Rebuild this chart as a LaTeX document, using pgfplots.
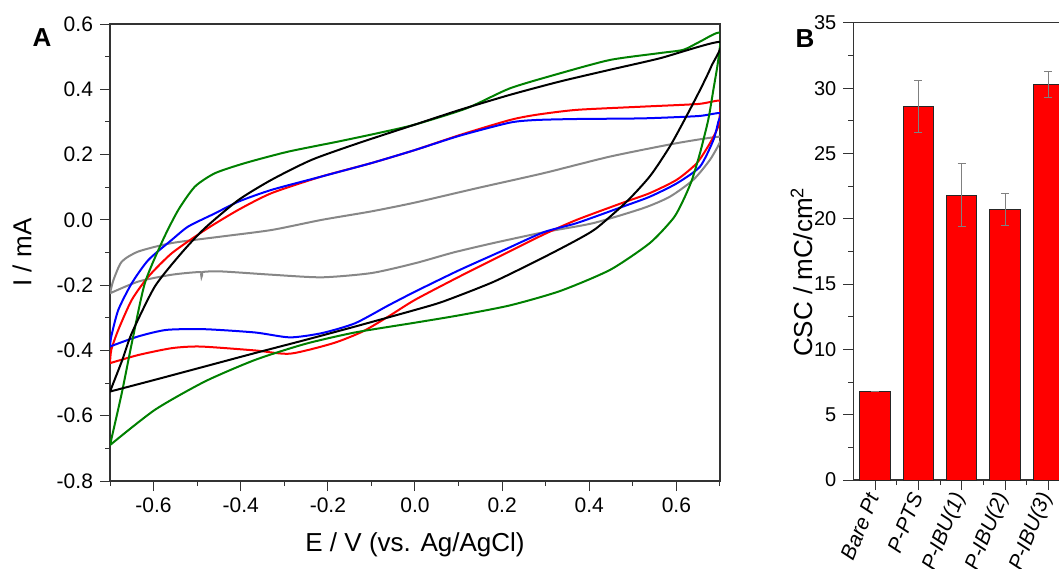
\documentclass[border=0pt]{standalone}
\usepackage{fontspec}
\setmainfont{Liberation Sans}
\usepackage{pgfplots}
\pgfplotsset{compat=1.18}

\definecolor{cvgreen}{RGB}{0,128,0}
\definecolor{cvgray}{RGB}{135,135,135}

\pgfplotsset{
  panel/.style={
    scale only axis,
    anchor=south west,
    axis line style={black!80, line width=0.6pt},
    tick align=outside,
    xtick pos=left, ytick pos=left,
    major tick length=5pt, minor tick length=2.5pt,
    every tick/.style={black!80, line width=0.5pt},
    /pgf/number format/assume math mode=true,
  },
}

\begin{document}
\begin{tikzpicture}[x=1pt,y=1pt]

% ---------- A: cyclic voltammograms ----------
\begin{axis}[panel,
    at={(55pt,43.5pt)}, width=305pt, height=228.5pt,
    xmin=-0.7, xmax=0.7, ymin=-0.8, ymax=0.6,
    xtick={-0.6,-0.4,...,0.61}, minor xtick={-0.7,-0.5,...,0.71},
    ytick={-0.8,-0.6,...,0.61}, minor ytick={-0.7,-0.5,...,0.51},
    xticklabel style={font=\fontsize{10.5}{12}\selectfont, /pgf/number format/.cd, fixed, fixed zerofill, precision=1},
    yticklabel style={font=\fontsize{10.5}{12}\selectfont, /pgf/number format/.cd, fixed, fixed zerofill, precision=1},
    xlabel={E / V (vs. Ag/AgCl)}, ylabel={I / mA},
    every axis x label/.style={at={(axis description cs:0.5,-0.14)}, anchor=center, font=\fontsize{13}{15}\selectfont},
    every axis y label/.style={at={(axis description cs:-0.144,0.5)}, rotate=90, anchor=center, font=\fontsize{13}{15}\selectfont},
]
% gray
\addplot[cvgray, line width=1pt, smooth, tension=0.4] coordinates {
  (-0.7,-0.225) (-0.692,-0.184) (-0.673,-0.128) (-0.635,-0.097) (-0.558,-0.071)
  (-0.444,-0.051) (-0.329,-0.031) (-0.214,0.0) (-0.1,0.026) (0,0.053)
  (0.142,0.097) (0.295,0.143) (0.448,0.194) (0.601,0.235) (0.7,0.255)
  (0.7,0.238) (0.677,0.184) (0.639,0.123) (0.585,0.071) (0.524,0.036)
  (0.409,-0.01) (0.295,-0.038) (0.18,-0.071) (0.088,-0.1) (0,-0.133)
  (-0.1,-0.163) (-0.214,-0.176) (-0.329,-0.168) (-0.444,-0.158) (-0.488,-0.16)
  (-0.49,-0.175) (-0.492,-0.16) (-0.558,-0.168) (-0.635,-0.189) (-0.7,-0.225)
};
% red
\addplot[red, line width=1pt, smooth, tension=0.4] coordinates {
  (-0.7,-0.439) (-0.697,-0.398) (-0.681,-0.337) (-0.65,-0.245) (-0.612,-0.174)
  (-0.558,-0.102) (-0.482,-0.031) (-0.405,0.031) (-0.329,0.082) (-0.214,0.133)
  (-0.1,0.174) (0,0.214) (0.103,0.26) (0.218,0.306) (0.279,0.322)
  (0.371,0.337) (0.524,0.347) (0.65,0.355) (0.7,0.365)
  (0.7,0.33) (0.696,0.286) (0.677,0.235) (0.647,0.174) (0.601,0.123)
  (0.539,0.082) (0.478,0.053) (0.371,0.0) (0.295,-0.045) (0.2,-0.108)
  (0.1,-0.175) (0,-0.245) (-0.061,-0.296) (-0.12,-0.342) (-0.188,-0.378)
  (-0.287,-0.41) (-0.367,-0.4) (-0.493,-0.388) (-0.558,-0.393) (-0.635,-0.414)
  (-0.7,-0.439)
};
% blue
\addplot[blue, line width=1pt, smooth, tension=0.4] coordinates {
  (-0.7,-0.388) (-0.697,-0.357) (-0.681,-0.276) (-0.65,-0.194) (-0.612,-0.123)
  (-0.558,-0.061) (-0.52,-0.02) (-0.459,0.02) (-0.405,0.056) (-0.329,0.092)
  (-0.214,0.133) (-0.1,0.174) (0,0.214) (0.103,0.258) (0.218,0.298)
  (0.279,0.306) (0.371,0.309) (0.524,0.311) (0.65,0.318) (0.7,0.327)
  (0.696,0.3) (0.685,0.245) (0.654,0.163) (0.601,0.112) (0.539,0.071)
  (0.478,0.041) (0.371,-0.01) (0.295,-0.038) (0.2,-0.095) (0.1,-0.155)
  (0,-0.22) (-0.061,-0.262) (-0.138,-0.317) (-0.214,-0.347) (-0.287,-0.36)
  (-0.367,-0.345) (-0.482,-0.335) (-0.57,-0.337) (-0.635,-0.357) (-0.7,-0.388)
};
% green
\addplot[cvgreen, line width=1pt, smooth, tension=0.4] coordinates {
  (-0.7,-0.69) (-0.673,-0.531) (-0.65,-0.378) (-0.62,-0.194) (-0.578,-0.06)
  (-0.543,0.031) (-0.505,0.102) (-0.459,0.143) (-0.39,0.174) (-0.291,0.209)
  (-0.176,0.24) (-0.084,0.266) (0,0.292) (0.119,0.342) (0.218,0.403)
  (0.333,0.449) (0.448,0.49) (0.562,0.511) (0.616,0.521) (0.654,0.546) (0.7,0.573)
  (0.696,0.49) (0.685,0.4) (0.673,0.306) (0.654,0.204) (0.635,0.12)
  (0.616,0.061) (0.593,0.005) (0.539,-0.071) (0.448,-0.153) (0.333,-0.218)
  (0.218,-0.262) (0.103,-0.292) (0,-0.315) (-0.138,-0.345) (-0.252,-0.38)
  (-0.367,-0.429) (-0.482,-0.495) (-0.597,-0.582) (-0.7,-0.69)
};
% black
\addplot[black, line width=1pt, smooth, tension=0.4] coordinates {
  (-0.7,-0.526) (-0.672,-0.43) (-0.65,-0.347) (-0.597,-0.204) (-0.535,-0.1)
  (-0.482,-0.025) (-0.405,0.061) (-0.329,0.123) (-0.237,0.184) (-0.13,0.235)
  (0,0.292) (0.103,0.337) (0.218,0.383) (0.333,0.424) (0.448,0.46)
  (0.562,0.495) (0.7,0.545)
  (0.68,0.47) (0.655,0.4) (0.62,0.31) (0.585,0.225) (0.54,0.135)
  (0.486,0.056) (0.417,-0.025) (0.371,-0.062) (0.295,-0.115) (0.18,-0.19)
  (0.065,-0.25) (0,-0.276) (-0.138,-0.327) (-0.252,-0.368) (-0.367,-0.408)
  (-0.482,-0.449) (-0.597,-0.49) (-0.7,-0.526)
};
\end{axis}

% ---------- B: charge storage capacity ----------
\begin{axis}[panel,
    at={(426.7pt,44pt)}, width=108.3pt, height=228.6pt,
    xmin=-0.5, xmax=4.5, ymin=0, ymax=35,
    xtick={0,...,4}, minor xtick={0.5,1.5,2.5,3.5},
    xticklabels={Bare Pt, P-PTS, P-IBU(1), P-IBU(2), P-IBU(3)},
    xticklabel style={font=\fontsize{10.5}{12}\selectfont\itshape, rotate=68, anchor=east, inner sep=2pt},
    ytick={0,5,...,35}, minor ytick={2.5,7.5,...,32.5},
    yticklabel style={font=\fontsize{10}{12}\selectfont},
    ylabel={CSC / mC/cm\textsuperscript{2}},
    every axis y label/.style={at={(axis description cs:-0.24,0.455)}, rotate=90, anchor=center, font=\fontsize{13}{15}\selectfont},
]
\addplot[ybar, bar width=0.7, fill=red, draw=black!85, line width=0.5pt,
    error bars/.cd, y dir=both, y explicit,
    error bar style={gray, line width=0.5pt},
    error mark options={gray, rotate=90, mark size=2pt, line width=0.5pt}]
  coordinates {
  (0,6.8) +- (0,0)
  (1,28.6) +- (0,2.0)
  (2,21.8) +- (0,2.4)
  (3,20.7) +- (0,1.25)
  (4,30.3) +- (0,1.0)
};
\end{axis}

\node[font=\fontsize{13}{15}\selectfont\bfseries] at (21pt,265.3pt) {A};
\node[font=\fontsize{13}{15}\selectfont\bfseries] at (402.5pt,264.5pt) {B};

\pgfresetboundingbox
\useasboundingbox (0,0) rectangle (529.5pt,284pt);
\end{tikzpicture}
\end{document}
